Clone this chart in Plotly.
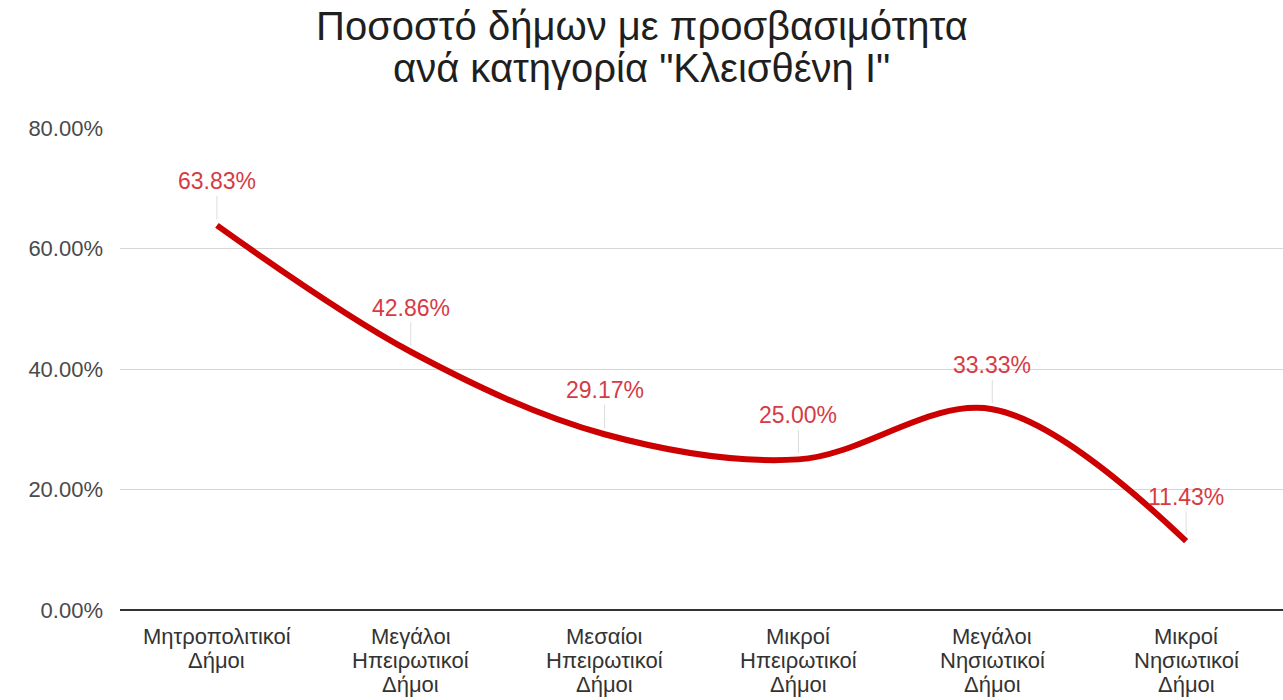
import plotly.graph_objects as go

# Κατηγορίες δήμων και ποσοστά προσβασιμότητας
categories = [
    "Μητροπολιτικοί<br>Δήμοι",
    "Μεγάλοι<br>Ηπειρωτικοί<br>Δήμοι",
    "Μεσαίοι<br>Ηπειρωτικοί<br>Δήμοι",
    "Μικροί<br>Ηπειρωτικοί<br>Δήμοι",
    "Μεγάλοι<br>Νησιωτικοί<br>Δήμοι",
    "Μικροί<br>Νησιωτικοί<br>Δήμοι",
]
values = [63.83, 42.86, 29.17, 25.00, 33.33, 11.43]
y_ticks = [0, 20, 40, 60, 80]
title_lines = ["Ποσοστό δήμων με προσβασιμότητα", "ανά κατηγορία \"Κλεισθένη Ι\""]

LINE_COLOR = "#cc0000"
LABEL_COLOR = "#d63b44"
FONT = "Liberation Sans, Arial, sans-serif"

MARGIN_L, MARGIN_T = 120, 128
PLOT_W = 1283 - MARGIN_L

fig = go.Figure()
fig.add_trace(go.Scatter(
    x=list(range(len(categories))),
    y=values,
    mode="lines",
    line=dict(color=LINE_COLOR, width=6, shape="spline", smoothing=1.0),
    hoverinfo="skip",
    showlegend=False,
))

# Ετικέτες τιμών με λευκό φόντο πίσω τους (διακόπτει τις γραμμές πλέγματος)
for i, v in enumerate(values):
    fig.add_shape(
        type="rect", layer="below",
        xref="x", yref="y", xsizemode="pixel", ysizemode="pixel",
        xanchor=i, yanchor=v,
        x0=-45, x1=45, y0=33, y1=56,
        fillcolor="white", line=dict(width=0),
    )
    fig.add_annotation(
        x=i, y=v, xref="x", yref="y",
        text=f"{v:.2f}%",
        showarrow=True, arrowhead=0, arrowwidth=1,
        arrowcolor="rgba(200,200,200,0.6)",
        ax=0, ay=-44, standoff=6,
        font=dict(family=FONT, size=23, color=LABEL_COLOR),
    )

# Ετικέτες κατηγοριών στον άξονα x, μία γραμμή κειμένου τη φορά (πυκνό διάστιχο)
for i, cat in enumerate(categories):
    for k, part in enumerate(cat.split("<br>")):
        fig.add_annotation(
            x=i, y=0, xref="x", yref="y",
            text=part, showarrow=False,
            xanchor="center", yanchor="middle",
            yshift=-(26 + 24 * k),
            font=dict(family=FONT, size=22, color="#333333"),
        )

# Τίτλος σε δύο γραμμές, κεντραρισμένος στο πλάτος της σελίδας
title_x = (1283 / 2 - MARGIN_L) / PLOT_W
for k, line in enumerate(title_lines):
    fig.add_annotation(
        x=title_x, xref="paper", y=1, yref="paper",
        xanchor="center", yanchor="middle",
        text=line, showarrow=False,
        yshift=(MARGIN_T - 26) - 42 * k,
        font=dict(family=FONT, size=40, color="#1f1f1f"),
    )

fig.update_layout(
    width=1283, height=700,
    paper_bgcolor="white", plot_bgcolor="white",
    margin=dict(l=MARGIN_L, r=0, t=MARGIN_T, b=90),
    font=dict(family=FONT),
    xaxis=dict(
        range=[-0.5, len(categories) - 0.5],
        showticklabels=False,
        showgrid=False, zeroline=False, showline=False, ticks="",
    ),
    yaxis=dict(
        range=[0, 80],
        tickmode="array", tickvals=y_ticks,
        ticktext=[f"{t:.2f}%" for t in y_ticks],
        showgrid=True, gridcolor="#d6d6d6", gridwidth=1,
        zeroline=True, zerolinecolor="#333333", zerolinewidth=1.5,
        showline=False, ticks="", ticklabelstandoff=16,
        tickfont=dict(family=FONT, size=22, color="#4a4a4a"),
    ),
)

fig.write_html("out.html")
